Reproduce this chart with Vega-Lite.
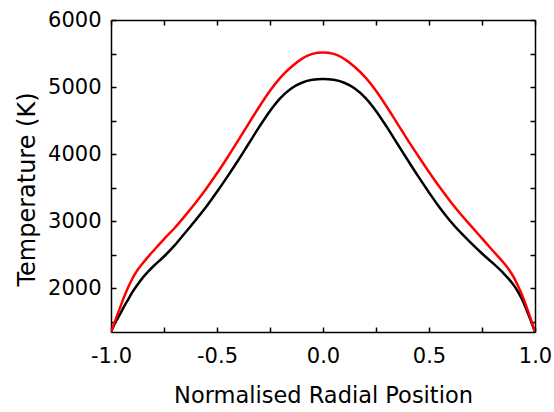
{
  "$schema": "https://vega.github.io/schema/vega-lite/v6.json",
  "width": 424,
  "height": 312,
  "autosize": "none",
  "padding": {"left": 111, "top": 20, "right": 19, "bottom": 80},
  "background": "white",
  "config": {
    "view": {"stroke": null},
    "font": "DejaVu Sans",
    "axis": {
      "grid": false,
      "domainColor": "#000000",
      "domainWidth": 1.5,
      "tickColor": "#000000",
      "tickWidth": 1.5,
      "labelFont": "DejaVu Sans",
      "labelFontSize": 21,
      "labelColor": "#000000",
      "titleFont": "DejaVu Sans",
      "titleFontWeight": "normal",
      "titleColor": "#000000"
    }
  },
  "data": {
    "values": [
      {"r": -1.0, "T": 1350, "s": "a"},
      {"r": -0.98, "T": 1490, "s": "a"},
      {"r": -0.96, "T": 1600, "s": "a"},
      {"r": -0.94, "T": 1720, "s": "a"},
      {"r": -0.92, "T": 1830, "s": "a"},
      {"r": -0.9, "T": 1940, "s": "a"},
      {"r": -0.875, "T": 2055, "s": "a"},
      {"r": -0.85, "T": 2160, "s": "a"},
      {"r": -0.825, "T": 2250, "s": "a"},
      {"r": -0.8, "T": 2330, "s": "a"},
      {"r": -0.75, "T": 2475, "s": "a"},
      {"r": -0.7, "T": 2640, "s": "a"},
      {"r": -0.65, "T": 2830, "s": "a"},
      {"r": -0.6, "T": 3020, "s": "a"},
      {"r": -0.55, "T": 3220, "s": "a"},
      {"r": -0.5, "T": 3440, "s": "a"},
      {"r": -0.45, "T": 3670, "s": "a"},
      {"r": -0.4, "T": 3910, "s": "a"},
      {"r": -0.35, "T": 4160, "s": "a"},
      {"r": -0.3, "T": 4410, "s": "a"},
      {"r": -0.25, "T": 4645, "s": "a"},
      {"r": -0.2, "T": 4840, "s": "a"},
      {"r": -0.15, "T": 4980, "s": "a"},
      {"r": -0.1, "T": 5065, "s": "a"},
      {"r": -0.05, "T": 5108, "s": "a"},
      {"r": 0.0, "T": 5120, "s": "a"},
      {"r": 0.05, "T": 5108, "s": "a"},
      {"r": 0.1, "T": 5065, "s": "a"},
      {"r": 0.15, "T": 4980, "s": "a"},
      {"r": 0.2, "T": 4840, "s": "a"},
      {"r": 0.25, "T": 4645, "s": "a"},
      {"r": 0.3, "T": 4410, "s": "a"},
      {"r": 0.35, "T": 4160, "s": "a"},
      {"r": 0.4, "T": 3910, "s": "a"},
      {"r": 0.45, "T": 3665, "s": "a"},
      {"r": 0.5, "T": 3430, "s": "a"},
      {"r": 0.55, "T": 3205, "s": "a"},
      {"r": 0.6, "T": 3005, "s": "a"},
      {"r": 0.65, "T": 2830, "s": "a"},
      {"r": 0.7, "T": 2670, "s": "a"},
      {"r": 0.75, "T": 2520, "s": "a"},
      {"r": 0.8, "T": 2380, "s": "a"},
      {"r": 0.85, "T": 2230, "s": "a"},
      {"r": 0.875, "T": 2145, "s": "a"},
      {"r": 0.9, "T": 2045, "s": "a"},
      {"r": 0.92, "T": 1950, "s": "a"},
      {"r": 0.94, "T": 1830, "s": "a"},
      {"r": 0.96, "T": 1680, "s": "a"},
      {"r": 0.98, "T": 1520, "s": "a"},
      {"r": 1.0, "T": 1350, "s": "a"},
      {"r": -1.0, "T": 1350, "s": "b"},
      {"r": -0.98, "T": 1520, "s": "b"},
      {"r": -0.96, "T": 1690, "s": "b"},
      {"r": -0.94, "T": 1860, "s": "b"},
      {"r": -0.92, "T": 2010, "s": "b"},
      {"r": -0.9, "T": 2140, "s": "b"},
      {"r": -0.88, "T": 2250, "s": "b"},
      {"r": -0.85, "T": 2375, "s": "b"},
      {"r": -0.817, "T": 2500, "s": "b"},
      {"r": -0.8, "T": 2560, "s": "b"},
      {"r": -0.75, "T": 2735, "s": "b"},
      {"r": -0.7, "T": 2900, "s": "b"},
      {"r": -0.65, "T": 3085, "s": "b"},
      {"r": -0.6, "T": 3280, "s": "b"},
      {"r": -0.55, "T": 3490, "s": "b"},
      {"r": -0.5, "T": 3715, "s": "b"},
      {"r": -0.45, "T": 3955, "s": "b"},
      {"r": -0.4, "T": 4205, "s": "b"},
      {"r": -0.35, "T": 4460, "s": "b"},
      {"r": -0.3, "T": 4710, "s": "b"},
      {"r": -0.25, "T": 4945, "s": "b"},
      {"r": -0.2, "T": 5145, "s": "b"},
      {"r": -0.15, "T": 5300, "s": "b"},
      {"r": -0.1, "T": 5420, "s": "b"},
      {"r": -0.05, "T": 5495, "s": "b"},
      {"r": 0.0, "T": 5515, "s": "b"},
      {"r": 0.05, "T": 5495, "s": "b"},
      {"r": 0.1, "T": 5420, "s": "b"},
      {"r": 0.15, "T": 5300, "s": "b"},
      {"r": 0.2, "T": 5145, "s": "b"},
      {"r": 0.25, "T": 4945, "s": "b"},
      {"r": 0.3, "T": 4710, "s": "b"},
      {"r": 0.35, "T": 4460, "s": "b"},
      {"r": 0.4, "T": 4210, "s": "b"},
      {"r": 0.45, "T": 3970, "s": "b"},
      {"r": 0.5, "T": 3735, "s": "b"},
      {"r": 0.55, "T": 3510, "s": "b"},
      {"r": 0.6, "T": 3300, "s": "b"},
      {"r": 0.65, "T": 3105, "s": "b"},
      {"r": 0.7, "T": 2925, "s": "b"},
      {"r": 0.75, "T": 2745, "s": "b"},
      {"r": 0.8, "T": 2565, "s": "b"},
      {"r": 0.85, "T": 2390, "s": "b"},
      {"r": 0.875, "T": 2290, "s": "b"},
      {"r": 0.9, "T": 2165, "s": "b"},
      {"r": 0.92, "T": 2035, "s": "b"},
      {"r": 0.94, "T": 1895, "s": "b"},
      {"r": 0.96, "T": 1725, "s": "b"},
      {"r": 0.98, "T": 1545, "s": "b"},
      {"r": 1.0, "T": 1350, "s": "b"}
    ]
  },
  "layer": [
    {
      "mark": {"type": "line", "strokeWidth": 2.5, "interpolate": "monotone", "clip": true},
      "encoding": {
        "x": {
          "field": "r", "type": "quantitative",
          "scale": {"domain": [-1, 1], "nice": false, "zero": false},
          "axis": {
            "orient": "bottom",
            "values": [-1, -0.5, 0, 0.5, 1],
            "labelExpr": "replace(format(datum.value, '.1f'), '\u2212', '-')",
            "ticks": false,
            "labelPadding": 13,
            "labelFlush": false,
            "title": "Normalised Radial Position",
            "titleFontSize": 22.5,
            "titleBaseline": "middle",
            "titleY": 63
          }
        },
        "y": {
          "field": "T", "type": "quantitative",
          "scale": {"domain": [1350, 6000], "nice": false, "zero": false},
          "axis": {
            "orient": "left",
            "values": [2000, 3000, 4000, 5000, 6000],
            "labelExpr": "datum.value + ''",
            "ticks": false,
            "labelPadding": 10,
            "labelFlush": false,
            "title": "Temperature (K)",
            "titleFontSize": 24,
            "titleBaseline": "middle",
            "titleAlign": "center",
            "titleX": -84,
            "titleY": 169
          }
        },
        "color": {
          "field": "s", "type": "nominal",
          "scale": {"domain": ["a", "b"], "range": ["#000000", "#ff0000"]},
          "legend": null
        }
      }
    },
    {
      "mark": {"type": "line", "opacity": 0},
      "encoding": {
        "x": {
          "field": "r", "type": "quantitative",
          "axis": {"orient": "top", "ticks": false, "labels": false, "title": null}
        },
        "y": {
          "field": "T", "type": "quantitative",
          "axis": {"orient": "right", "ticks": false, "labels": false, "title": null}
        },
        "detail": {"field": "s", "type": "nominal"}
      }
    },
    {
      "mark": {"type": "line", "opacity": 0},
      "encoding": {
        "x": {
          "field": "r", "type": "quantitative",
          "axis": {
            "orient": "top", "offset": -312, "domain": false,
            "values": [-1, -0.75, -0.5, -0.25, 0, 0.25, 0.5, 0.75, 1],
            "tickSize": 5, "labels": false, "title": null
          }
        },
        "y": {
          "field": "T", "type": "quantitative",
          "axis": {
            "orient": "right", "offset": -424, "domain": false,
            "values": [1500, 2000, 2500, 3000, 3500, 4000, 4500, 5000, 5500, 6000],
            "tickSize": 5, "labels": false, "title": null
          }
        },
        "detail": {"field": "s", "type": "nominal"}
      }
    },
    {
      "mark": {"type": "line", "opacity": 0},
      "encoding": {
        "x": {
          "field": "r", "type": "quantitative",
          "axis": {
            "orient": "bottom", "offset": -312, "domain": false,
            "values": [-1, -0.75, -0.5, -0.25, 0, 0.25, 0.5, 0.75, 1],
            "tickSize": 5, "labels": false, "title": null
          }
        },
        "y": {
          "field": "T", "type": "quantitative",
          "axis": {
            "orient": "left", "offset": -424, "domain": false,
            "values": [1500, 2000, 2500, 3000, 3500, 4000, 4500, 5000, 5500, 6000],
            "tickSize": 5, "labels": false, "title": null
          }
        },
        "detail": {"field": "s", "type": "nominal"}
      }
    }
  ],
  "resolve": {"axis": {"x": "independent", "y": "independent"}}
}
